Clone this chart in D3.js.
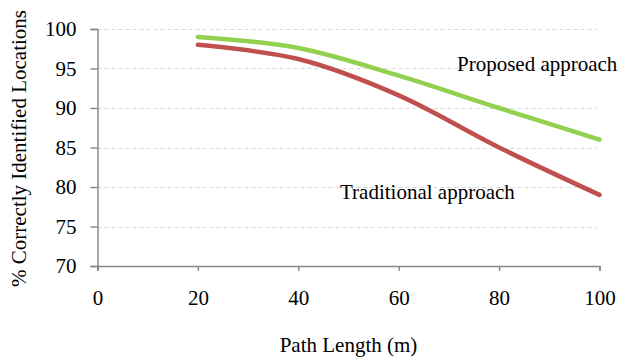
<!DOCTYPE html>
<html>
<head>
<meta charset="utf-8">
<script src="https://cdn.jsdelivr.net/npm/d3@7"></script>
<style>
  html, body { margin: 0; padding: 0; background: #fff; }
  svg { display: block; }
  text { font-family: "Liberation Serif", "Times New Roman", serif; fill: #000; }
</style>
</head>
<body>
<svg id="chart" width="621" height="358"></svg>
<script>
// Path length in metres
const pathLengths = [20, 40, 60, 80, 100];
// % of locations correctly identified, per method
const proposed = [99, 97.6, 94.1, 90, 86];
const traditional = [98, 96.2, 91.6, 85, 79];

const xTicks = [0, 20, 40, 60, 80, 100];
const yTicks = [70, 75, 80, 85, 90, 95, 100];

const svg = d3.select("#chart");
const W = 621, H = 358;
const margin = { left: 97.5, right: 21.5, top: 29, bottom: 92 };

const x = d3.scaleLinear().domain([0, 100]).range([margin.left, W - margin.right]);
const y = d3.scaleLinear().domain([70, 100]).range([H - margin.bottom, margin.top]);

const fontSize = 21;

// horizontal dashed gridlines
svg.append("g")
  .selectAll("line")
  .data(yTicks.filter(d => d > 70))
  .join("line")
  .attr("x1", x(0))
  .attr("x2", x(100) - 3)
  .attr("y1", d => Math.round(y(d)) + 0.5)
  .attr("y2", d => Math.round(y(d)) + 0.5)
  .attr("stroke", "#d9d9d9")
  .attr("stroke-width", 1)
  .attr("stroke-dasharray", "4,3");

// y axis
const yAxis = svg.append("g")
  .attr("transform", `translate(${x(0)},0)`)
  .call(d3.axisLeft(y).tickValues(yTicks).tickSize(7).tickPadding(14));
yAxis.select(".domain").attr("stroke", "#868686").attr("stroke-width", 1.4);
yAxis.selectAll(".tick line").attr("stroke", "#868686").attr("stroke-width", 1.4);
yAxis.selectAll(".tick text")
  .style("font-family", '"Liberation Serif", "Times New Roman", serif')
  .attr("font-size", fontSize).attr("fill", "#000");

// x axis
const xAxis = svg.append("g")
  .attr("transform", `translate(0,${y(70)})`)
  .call(d3.axisBottom(x).tickValues(xTicks).tickSize(5).tickPadding(19));
xAxis.select(".domain").attr("stroke", "#868686").attr("stroke-width", 1.4);
xAxis.selectAll(".tick line").attr("stroke", "#868686").attr("stroke-width", 1.4);
xAxis.selectAll(".tick text")
  .style("font-family", '"Liberation Serif", "Times New Roman", serif')
  .attr("font-size", fontSize).attr("fill", "#000");

// smoothed series lines
const line = d3.line()
  .x((d, i) => x(pathLengths[i]))
  .y(d => y(d))
  .curve(d3.curveCatmullRom.alpha(0.5));

svg.append("path")
  .attr("d", line(traditional))
  .attr("fill", "none")
  .attr("stroke", "#c0504d")
  .attr("stroke-width", 4.5)
  .attr("stroke-linecap", "round");

svg.append("path")
  .attr("d", line(proposed))
  .attr("fill", "none")
  .attr("stroke", "#92d050")
  .attr("stroke-width", 4.5)
  .attr("stroke-linecap", "round");

// series labels
svg.append("text")
  .attr("x", 457).attr("y", 71)
  .attr("font-size", fontSize)
  .text("Proposed approach");

svg.append("text")
  .attr("x", 340).attr("y", 199)
  .attr("font-size", fontSize)
  .text("Traditional approach");

// axis titles
svg.append("text")
  .attr("x", x(50)).attr("y", 352)
  .attr("text-anchor", "middle")
  .attr("font-size", fontSize)
  .text("Path Length (m)");

svg.append("text")
  .attr("transform", `translate(26,${(margin.top + y(70)) / 2 + 1}) rotate(-90)`)
  .attr("text-anchor", "middle")
  .attr("font-size", fontSize)
  .text("% Correctly Identified Locations");
</script>
</body>
</html>
